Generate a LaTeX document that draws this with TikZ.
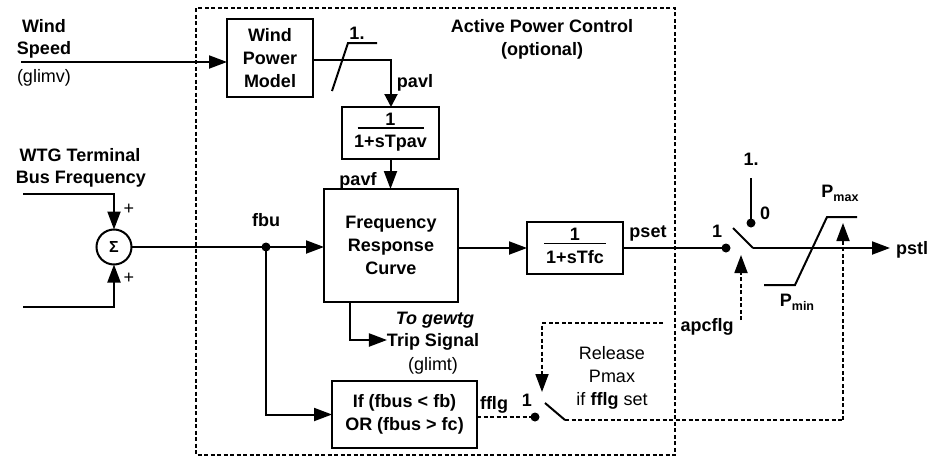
\documentclass[tikz,border=0pt]{standalone}
\usepackage{fontspec}
\setmainfont{Liberation Sans}
\usetikzlibrary{arrows.meta,calc}
\begin{document}
\begin{tikzpicture}[x=1pt,y=-1pt,
 every node/.style={font=\fontsize{18}{23}\selectfont\bfseries, inner sep=0pt, outer sep=0pt},
 blk/.style={draw, line width=2pt, align=center},
 lbl/.style={text height=13pt, text depth=0pt},
 plain/.style={font=\fontsize{18}{23}\selectfont},
 subs/.style={font=\fontsize{12.5}{13}\selectfont\bfseries},
 wire/.style={line width=2pt},
 arr/.style={wire,-{Triangle[length=18pt,width=13pt]}},
 sarr/.style={wire,-{Triangle[length=13pt,width=13pt]}},
 dots/.style={line width=1.8pt, dash pattern=on 4pt off 2.5pt},
 darr/.style={dots,-{Triangle[length=18pt,width=13pt]}},
 jdot/.style={circle, fill, minimum size=9pt},
]
\useasboundingbox (0,0) rectangle (930,458);
% outer dotted frame
\draw[dots] (196,8) rectangle (675,455);
\node[align=center] (apc) at (542,39) {Active Power Control\\(optional)};

% blocks
\node[blk, minimum width=86pt, minimum height=78pt] (wpm) at (270,58) {Wind\\Power\\Model};
\node[blk, minimum width=97pt, minimum height=52pt] (tpav) at (390.5,133) {};
\node[lbl] (tpavn) at ($(tpav.center)+(0,-14.5)$) {1};
\node[lbl] (tpavd) at ($(tpav.center)+(0,7.5)$) {1+sTpav};
\draw[line width=1.6pt] ($(tpav.center)+(-33,-5)$) -- ($(tpav.center)+(33,-5)$);

\node[blk, minimum width=134pt, minimum height=113pt] (frc) at (391,245.5) {Frequency\\Response\\Curve};

\node[blk, minimum width=96pt, minimum height=52pt] (tfc) at (575,248) {};
\node[lbl] (tfcn) at ($(tfc.center)+(0,-14)$) {1};
\node[lbl] (tfcd) at ($(tfc.center)+(0,8.5)$) {1+sTfc};
\draw[line width=1.6pt] ($(tfc.center)+(-31,-4.7)$) -- ($(tfc.center)+(31,-4.7)$);

\node[blk, minimum width=145pt, minimum height=67pt] (iff) at (404.5,414.5) {If (fbus < fb)\\OR (fbus > fc)};

\node[draw, circle, line width=2pt, minimum size=35pt] (sum) at (114,247) {\fontsize{16}{16}\selectfont Σ};

% left labels
\node[lbl] (wind) at (44,26) {Wind};
\node[lbl] (speed) at (44,48) {Speed};
\node[lbl, plain] (glimv) at (44,76) {(glimv)};
\node[lbl] (wtg) at (80,155) {WTG Terminal};
\node[lbl] (busf) at (81,177) {Bus Frequency};
\node[lbl, plain] (p1) at (129,208) {+};
\node[lbl, plain] (p2) at (129,277) {+};

% inner labels
\node[lbl] (one1) at (357,33) {1.};
\node[lbl] (pavl) at (415,81) {pavl};
\node[lbl] (pavf) at (358,179) {pavf};
\node[lbl] (fbu) at (266,220) {fbu};
\node[lbl] (pset) at (648,231) {pset};
\node[lbl, font=\fontsize{18}{23}\selectfont\bfseries\itshape] (togew) at (435,318) {To gewtg};
\node[lbl] (trip) at (433,340) {Trip Signal};
\node[lbl, plain] (glimt) at (433,364) {(glimt)};
\node[lbl] (fflg) at (494,403) {fflg};
\node[lbl] (one4) at (527,400) {1};
\node[plain, align=center] (rel) at (612,378) {Release\\Pmax\\if \textbf{fflg} set};

% right labels
\node[lbl] (one2) at (751,159) {1.};
\node[lbl] (zero) at (765,213) {0};
\node[lbl] (one3) at (717,231) {1};
\node[lbl] (pstl) at (912,248) {pstl};
\node[lbl] (apcflg) at (707,325) {apcflg};
\node (pmax) at (840,193) {P\raisebox{-4pt}{\fontsize{12.5}{13}\selectfont max}};
\node (pmin) at (797,302) {P\raisebox{-4pt}{\fontsize{12.5}{13}\selectfont min}};

% junctions and points
\node[jdot] (j1) at (266,247) {};
\node[jdot] (dot1) at (726,248) {};
\node[jdot] (dot0) at (751,223) {};
\node[jdot] (dot2) at (535,417) {};
\coordinate (ws) at (21,62);
\coordinate (c1) at (391,60);
\coordinate (in1) at (23,194);
\coordinate (in2) at (23,307);
\coordinate (b1) at (733,228);
\coordinate (b2) at (753,248);
\coordinate (pout) at (890,248);
\coordinate (top1) at (751,178);
\coordinate (s1) at (545,403);
\coordinate (s2) at (565,420);
\coordinate (pm) at (843,420);
\coordinate (pmt) at (843,223);
\coordinate (ap1) at (741,320);
\coordinate (ap2) at (741,255);
\coordinate (ab1) at (663,323);
\coordinate (ab2) at (542,323);
\coordinate (ab3) at (542,392);

% connectors
\draw[arr] (ws) -- (ws -| wpm.west);
\draw[sarr] (wpm.east |- c1) -- (c1) -- (c1 |- tpav.north);
\draw[wire] (332,91) -- (348,43) -- (377,43);
\draw[arr] (tpav.south) -- (tpav.south |- frc.north);
\draw[arr] (in1) -| (sum.north);
\draw[arr] (in2) -| (sum.south);
\draw[arr] (sum.east) -- (sum.east -| frc.west);
\draw[arr] (j1.center) |- (iff.west);
\draw[arr] ([xshift=-41pt]frc.south) |- (trip.west);
\draw[arr] (frc.east |- tfc.west) -- (tfc.west);
\draw[wire] (tfc.east) -- (dot1.center);
\draw[wire] (b1) -- (b2);
\draw[arr] (b2) -- (pout);
\draw[wire] (top1) -- (dot0.center);
\draw[wire] (764,285) -- (795,285) -- (827,217) -- (857,217);
\draw[darr] (ap1) -- (ap2);
\draw[darr] (pm) -- (pmt);
\draw[dots] (iff.east |- dot2) -- (dot2.center);
\draw[wire] (s1) -- (s2);
\draw[dots] (s2) -- (pm);
\draw[darr] (ab1) -- (ab2) -- (ab3);
\end{tikzpicture}
\end{document}
